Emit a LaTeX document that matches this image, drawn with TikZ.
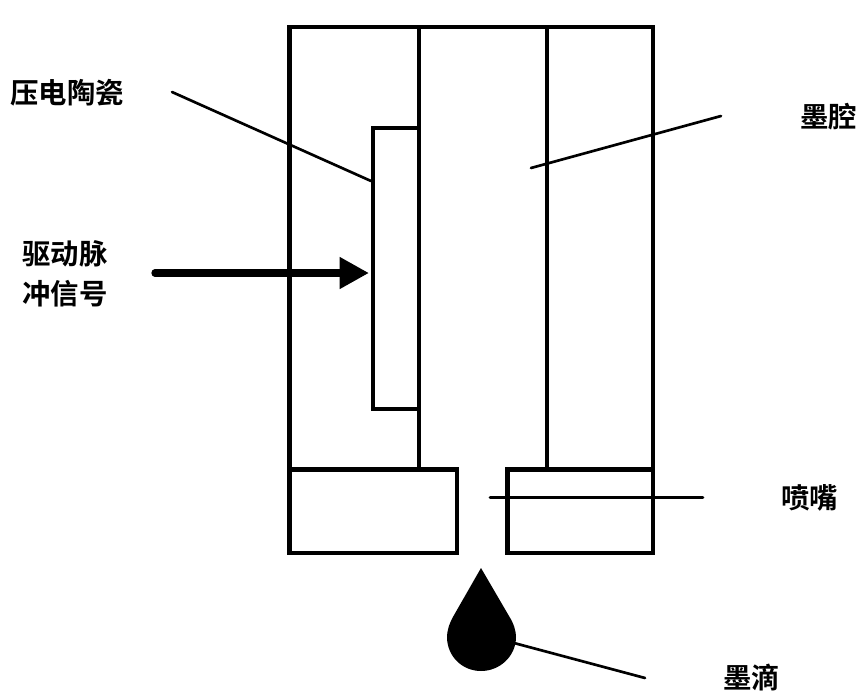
\documentclass[tikz,border=0pt]{standalone}
\usepackage{fontspec}
\setmainfont{Noto Sans CJK SC}[BoldFont={Noto Sans CJK SC Bold}]
\usetikzlibrary{arrows.meta}
\tikzset{every picture/.style={line width=0.75pt}}
\tikzset{
  wall/.style={draw,line width=3.5pt,inner sep=0pt,outer sep=0pt,rectangle,anchor=north west},
  leader/.style={line width=2pt,line cap=round},
  label/.style={inner sep=0.75pt,font=\fontsize{21.3pt}{30pt}\selectfont\bfseries,align=center}
}

\begin{document}
\begin{tikzpicture}[x=0.75pt,y=0.75pt,yscale=-1,xscale=1]
\useasboundingbox (0,0) rectangle (861,697);

%Shape: Rectangle
\node [wall,minimum width=125.6pt,minimum height=62.6pt] (blockl) at (289.5,469.5) {};
\node [wall,minimum width=109.3pt,minimum height=62.6pt] (blockr) at (507.3,469.5) {};
\node [wall,minimum width=34.5pt,minimum height=210.75pt] (piezo) at (373,128) {};

%Straight Lines
\coordinate (bodya) at (289.5,469.5);
\coordinate (bodyb) at (289.5,27);
\coordinate (bodyc) at (653,27);
\coordinate (bodyd) at (653,469.5);
\coordinate (wallla) at (419,27);
\coordinate (walllb) at (419,469.5);
\coordinate (wallra) at (547,27);
\coordinate (wallrb) at (547,469.5);
\draw [line width=3.5pt,line join=miter] (bodya) -- (bodyb) -- (bodyc) -- (bodyd);
\draw [line width=3.5pt] (wallla) -- (walllb);
\draw [line width=3.5pt] (wallra) -- (wallrb);

%Shape: Drop
\path [fill=black] (481,568) -- (453.5,616) .. controls (449,624) and (447,631) .. (447,637) .. controls (447,656) and (462,671) .. (481,671) .. controls (500,671) and (516,656) .. (516,637) .. controls (516,631) and (514,624) .. (509,616) -- cycle;

% Text Node
\node [label,anchor=west] (piezotext) at (9,93) {压电陶瓷};
\node [label,anchor=west] (pulsetext) at (21,274) {驱动脉\\冲信号};
\node [label,anchor=west] (chambertext) at (799,117) {墨腔};
\node [label,anchor=west] (nozzletext) at (780,498) {喷嘴};
\node [label,anchor=west] (droptext) at (722,678) {墨滴};

%Straight Lines
\coordinate (piezoa) at (172,92);
\coordinate (piezob) at (371,181);
\coordinate (pulsea) at (155,273);
\coordinate (pulseb) at (369,273);
\coordinate (chambera) at (721,116);
\coordinate (chamberb) at (531,168);
\coordinate (nozzlea) at (703,497.5);
\coordinate (nozzleb) at (490,497.5);
\coordinate (dropa) at (645,678);
\coordinate (dropb) at (514,643);
\draw [leader] (piezoa) -- (piezob);
\draw [line width=5.5pt,line cap=round,-{Triangle[length=22pt,width=22.5pt]}] (pulsea) -- (pulseb);
\draw [leader] (chambera) -- (chamberb);
\draw [leader] (nozzlea) -- (nozzleb);
\draw [leader] (dropa) -- (dropb);
\end{tikzpicture}
\end{document}
